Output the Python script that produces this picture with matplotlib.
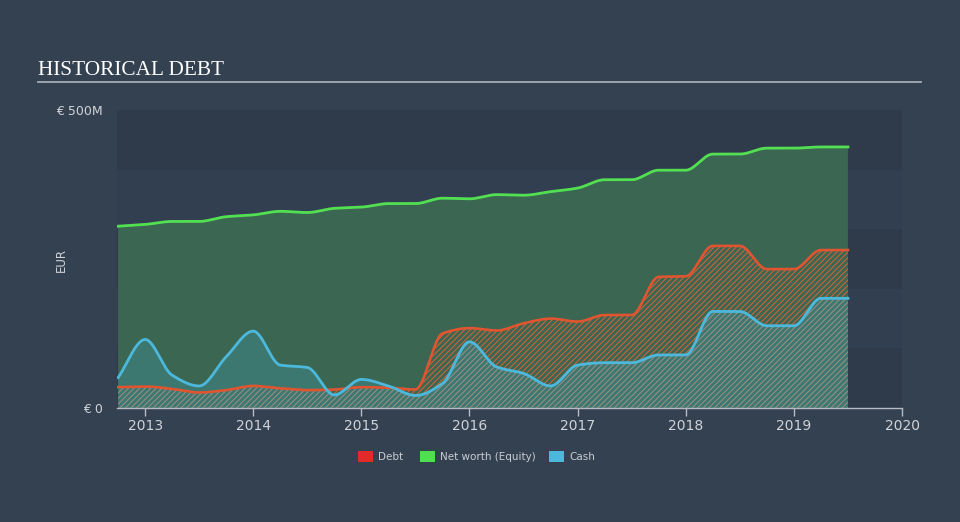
import numpy as np
import matplotlib
matplotlib.use("Agg")
import matplotlib.pyplot as plt
from matplotlib.patches import Rectangle

# ---------------- data (EUR millions, quarterly) ----------------
dates = [2012.75, 2013.0, 2013.25, 2013.5, 2013.75, 2014.0, 2014.25, 2014.5,
         2014.75, 2015.0, 2015.25, 2015.5, 2015.75, 2016.0, 2016.25, 2016.5,
         2016.75, 2017.0, 2017.25, 2017.5, 2017.75, 2018.0, 2018.25, 2018.5,
         2018.75, 2019.0, 2019.25, 2019.5]
equity = [305, 308, 313, 313, 321, 324, 330, 328, 335, 337, 343, 343, 352, 351,
          358, 357, 363, 369, 383, 383, 399, 399, 426, 426, 436, 436, 438, 438]
debt = [35, 36, 32, 26, 30, 37, 33, 30, 31, 35, 34, 31, 125, 134,
        130, 142, 150, 145, 156, 156, 220, 221, 272, 272, 233, 233, 265, 265]
cash = [51, 115, 55, 37, 86, 129, 72, 68, 22, 48, 37, 21, 41, 111,
        69, 58, 37, 72, 76, 76, 89, 89, 162, 162, 138, 138, 184, 184]
year_ticks = [2013, 2014, 2015, 2016, 2017, 2018, 2019, 2020]
y_ticks = [0, 500]
y_tick_labels = ["€ 0", "€ 500M"]
legend_labels = ["Debt", "Net worth (Equity)", "Cash"]
title = "HISTORICAL DEBT"


def monotone(xs, ys, n=800):
    """Monotone cubic (Fritsch-Carlson) curve for drawing smooth lines."""
    xs = np.asarray(xs, float)
    ys = np.asarray(ys, float)
    h = np.diff(xs)
    d = np.diff(ys) / h
    m = np.zeros_like(ys)
    m[0], m[-1] = d[0], d[-1]
    for i in range(1, len(ys) - 1):
        if d[i - 1] * d[i] <= 0:
            m[i] = 0
        else:
            w1 = 2 * h[i] + h[i - 1]
            w2 = h[i] + 2 * h[i - 1]
            m[i] = (w1 + w2) / (w1 / d[i - 1] + w2 / d[i])
    xx = np.linspace(xs[0], xs[-1], n)
    idx = np.clip(np.searchsorted(xs, xx) - 1, 0, len(xs) - 2)
    t = (xx - xs[idx]) / h[idx]
    h00 = 2 * t**3 - 3 * t**2 + 1
    h10 = t**3 - 2 * t**2 + t
    h01 = -2 * t**3 + 3 * t**2
    h11 = t**3 - t**2
    yy = (h00 * ys[idx] + h10 * h[idx] * m[idx] + h01 * ys[idx + 1]
          + h11 * h[idx] * m[idx + 1])
    return xx, yy


BG = "#344151"
plt.rcParams["hatch.linewidth"] = 0.8

fig = plt.figure(figsize=(9.6, 5.22), dpi=100, facecolor=BG)
ax = fig.add_axes([117 / 960, 1 - 408 / 522, 785 / 960, 298 / 522])
ax.set_facecolor(BG)

# background bands
band_cols = ["#2f3b4b", "#323f50"]
for i in range(5):
    ax.axhspan(i * 100, (i + 1) * 100, color=band_cols[i % 2], lw=0, zorder=0)

xe, ye = monotone(dates, equity)
xd, yd = monotone(dates, debt)
xc, yc = monotone(dates, cash)

GREEN = "#52e052"
RED = "#e05530"
BLUE = "#4cb9dc"

# equity area
ax.fill_between(xe, 0, ye, facecolor="#3a6652", lw=0, zorder=1)
# cash fill (translucent blue)
ax.fill_between(xc, 0, yc, facecolor=BLUE, alpha=0.22, lw=0, zorder=2)
# debt hatch (red) where above cash
lo = np.minimum(yc, yd)
ax.fill_between(xd, lo, yd, facecolor="none", edgecolor="#c8643c", hatch="//////",
                lw=0, zorder=3)
# overlapped region (grey hatch)
ax.fill_between(xd, 0, lo, facecolor="none", edgecolor="#958d84", hatch="//////",
                lw=0, zorder=3)

ax.plot(xe, ye, color=GREEN, lw=2, zorder=5)
ax.plot(xd, yd, color=RED, lw=1.9, zorder=5)
ax.plot(xc, yc, color=BLUE, lw=2, zorder=6)

ax.set_xlim(2012.74, 2020)
ax.set_ylim(0, 500)

for s in ["top", "right", "left"]:
    ax.spines[s].set_visible(False)
ax.spines["bottom"].set_color("#b7bcc4")
ax.spines["bottom"].set_linewidth(1)

ax.set_xticks(year_ticks)
ax.set_xticklabels([str(y) for y in year_ticks])
ax.tick_params(axis="x", colors="#b7bcc4", labelcolor="#d0d3d8", length=6, width=1,
               labelsize=10, pad=2)
ax.set_yticks(y_ticks)
ax.set_yticklabels(y_tick_labels)
ax.tick_params(axis="y", length=0, labelcolor="#d0d3d8", labelsize=9, pad=10)
fig.text(61 / 960, 1 - 260 / 522, "EUR", color="#d0d3d8", fontsize=8.5,
         rotation=90, ha="center", va="center")

# title and rule
fig.text(38 / 960, 1 - 75 / 522, title, family="Liberation Serif", fontsize=15.3,
         color="white", ha="left", va="baseline")
fig.add_artist(plt.Line2D([38 / 960, 921 / 960], [1 - 82 / 522, 1 - 82 / 522],
                          color="#a7abb2", lw=1.3, transform=fig.transFigure))

# legend
leg_cols = ["#e32a2a", "#4ee04e", "#4cb9dc"]
leg_x = [358, 420, 549]
for lx, lc, lt in zip(leg_x, leg_cols, legend_labels):
    fig.add_artist(Rectangle((lx / 960, 1 - 462 / 522), 15 / 960, 11 / 522,
                             facecolor=lc, edgecolor="none", transform=fig.transFigure))
    fig.text((lx + 20) / 960, 1 - 457 / 522, lt, color="#c9ccd1", fontsize=7.5,
             ha="left", va="center")

fig.savefig("out.png", dpi=100, facecolor=BG)
